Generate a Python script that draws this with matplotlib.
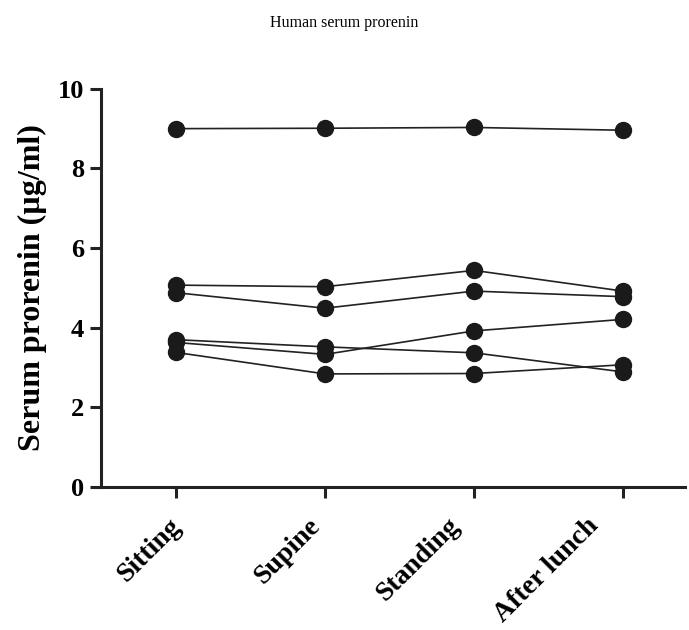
import matplotlib.pyplot as plt
from matplotlib.transforms import ScaledTranslation

plt.rcParams['font.family'] = ['Liberation Serif', 'DejaVu Serif']

conditions = ["Sitting", "Supine", "Standing", "After lunch"]
subject_1 = [9.00, 9.01, 9.03, 8.96]
subject_2 = [5.07, 5.03, 5.44, 4.92]
subject_3 = [4.88, 4.49, 4.92, 4.78]
subject_4 = [3.63, 3.33, 3.92, 4.21]
subject_5 = [3.70, 3.52, 3.37, 2.89]
subject_6 = [3.38, 2.84, 2.85, 3.07]
subjects = [subject_1, subject_2, subject_3, subject_4, subject_5, subject_6]

fig = plt.figure(figsize=(6.89, 6.3), dpi=100)
ax = fig.add_axes([0.1466, 0.227, 0.8476, 0.632])

x = range(len(conditions))
for s in subjects:
    ax.plot(x, s, color="#222222", linewidth=1.2, marker="o",
            markersize=11.5, markerfacecolor="#1a1a1a", markeredgecolor="#1a1a1a")

ax.set_xlim(-0.503, 3.416)
ax.set_ylim(0, 10)
ax.set_yticks([0, 2, 4, 6, 8, 10])
ax.set_xticks(list(x))
ax.set_xticklabels([])
# category labels drawn by hand: in the original they sit a bit tighter than the ticks
for i, name in enumerate(conditions):
    dx = (6 - 10 * i) / 100
    tr = ax.get_xaxis_transform() + ScaledTranslation(dx, -0.40, fig.dpi_scale_trans)
    ax.text(i, 0, name, transform=tr, rotation=45, ha="right", va="baseline",
            rotation_mode="anchor", fontsize=20, fontweight="bold", clip_on=False)
for lab in ax.get_yticklabels():
    lab.set_fontsize(19)
    lab.set_fontweight("bold")

for side in ["top", "right"]:
    ax.spines[side].set_visible(False)
for side in ["left", "bottom"]:
    ax.spines[side].set_linewidth(2.2)
    ax.spines[side].set_color("#222222")
ax.tick_params(direction="out", length=8, width=2.2, color="#222222", pad=4)

ax.set_ylabel("Serum prorenin (µg/ml)", fontsize=23, fontweight="bold", labelpad=8)
fig.text(0.5, 0.963, "Human serum prorenin", ha="center", va="center", fontsize=11.5)

fig.savefig("out.png", dpi=100)
